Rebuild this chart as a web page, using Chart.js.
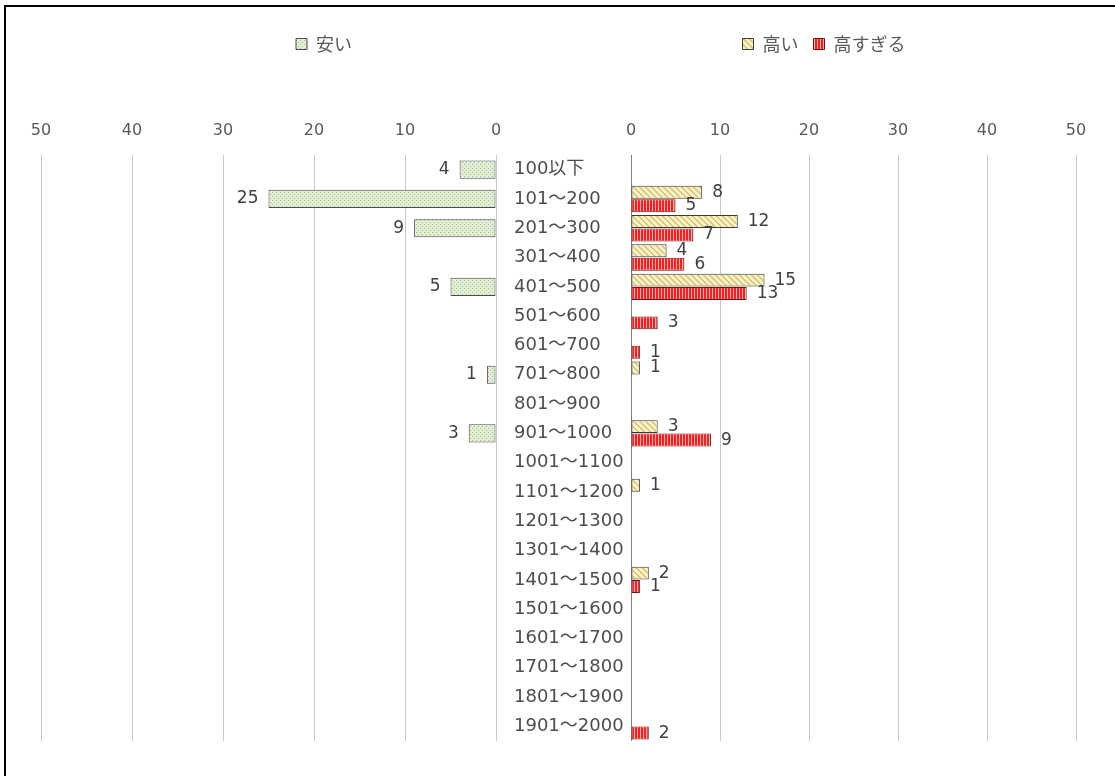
<!DOCTYPE html>
<html>
<head>
<meta charset="utf-8">
<script src="https://cdn.jsdelivr.net/npm/chart.js@4.4.0/dist/chart.umd.min.js"></script>
<style>
html,body{margin:0;padding:0;background:#fff;overflow:hidden;width:1115px;height:776px;}
#frame{position:absolute;left:4px;top:5px;width:1200px;height:900px;border-left:2px solid #000;border-top:2px solid #000;box-sizing:border-box;}
#leftWrap{position:absolute;left:0;top:0;width:648px;height:750px;}
#rightWrap{position:absolute;left:554px;top:0;width:540px;height:750px;}
</style>
</head>
<body>
<div id="frame"></div>
<div id="leftWrap"><canvas id="leftChart"></canvas></div>
<div id="rightWrap"><canvas id="rightChart"></canvas></div>
<script>
// ---- data ----
const categories = ['100以下','101～200','201～300','301～400','401～500','501～600','601～700','701～800','801～900','901～1000',
  '1001～1100','1101～1200','1201～1300','1301～1400','1401～1500','1501～1600','1601～1700','1701～1800','1801～1900','1901～2000'];
const seriesCheapName = '安い';
const seriesHighName = '高い';
const seriesTooHighName = '高すぎる';
const cheap   = [4,25,9,0,5,0,0,1,0,3,0,0,0,0,0,0,0,0,0,0];
const high    = [0,8,12,4,15,0,0,1,0,3,0,1,0,0,2,0,0,0,0,0];
const tooHigh = [0,5,7,6,13,3,1,0,0,9,0,0,0,0,1,0,0,0,0,2];
const axisMin = 0, axisMax = 50, axisStep = 10;

// ---- patterns ----
function makePattern(w, h, painter) {
  const c = document.createElement('canvas');
  c.width = w; c.height = h;
  const g = c.getContext('2d');
  painter(g, w, h);
  return document.createElement('canvas').getContext('2d').createPattern(c, 'repeat');
}
const greenDots = makePattern(4, 4, (g) => {
  g.fillStyle = '#e3eed6'; g.fillRect(0, 0, 4, 4);
  g.fillStyle = '#a3c084';
  g.fillRect(0, 0, 1, 1); g.fillRect(2, 2, 1, 1);
});
const yellowHatch = makePattern(6, 6, (g) => {
  g.fillStyle = '#f7f0cd'; g.fillRect(0, 0, 6, 6);
  g.fillStyle = '#dcc66a';
  for (let y = 0; y < 6; y++) for (let x = 0; x < 6; x++) {
    if ((((x - y) % 6) + 6) % 6 < 2) g.fillRect(x, y, 1, 1);
  }
});
const redStripes = makePattern(3, 1, (g) => {
  g.fillStyle = '#ff1c1c'; g.fillRect(0, 0, 2, 1);
  g.fillStyle = '#ffb8b8'; g.fillRect(2, 0, 1, 1);
});

const FONT_NUM = '"DejaVu Sans", "Noto Sans CJK JP", sans-serif';
const FONT_JP = '"Noto Sans CJK JP", sans-serif';

// ---- value labels plugin ----
const valueLabels = {
  id: 'valueLabels',
  afterDatasetsDraw(chart, args, opts) {
    const ctx = chart.ctx;
    ctx.save();
    ctx.font = '17px ' + FONT_NUM;
    ctx.fillStyle = '#404040';
    ctx.textBaseline = 'middle';
    chart.data.datasets.forEach((ds, i) => {
      const meta = chart.getDatasetMeta(i);
      meta.data.forEach((bar, j) => {
        const v = ds.data[j];
        if (!v) return;
        if (opts.side === 'left') {
          ctx.textAlign = 'right';
          ctx.fillText(String(v), bar.x - 10, bar.y);
        } else {
          ctx.textAlign = 'left';
          ctx.fillText(String(v), bar.x + 10, bar.y);
        }
      });
    });
    ctx.restore();
  }
};

function xAxis(reverse, zeroColor) {
  return {
    type: 'linear',
    position: 'top',
    reverse: reverse,
    min: axisMin, max: axisMax,
    ticks: { stepSize: axisStep, padding: 15, color: '#595959', font: { size: 16, family: FONT_NUM } },
    grid: { drawTicks: false, color: (c) => (c.tick && c.tick.value === 0 ? zeroColor : '#c8c8c8'), lineWidth: 1 },
    border: { display: false },
    afterFit: (axis) => { axis.height = 92; axis.paddingLeft = 0; axis.paddingRight = 0; }
  };
}

function fixedWidth(w) {
  return (axis) => { axis.width = w; axis.paddingTop = 0; axis.paddingBottom = 0; };
}

function spacerAxis(position, w) {
  return {
    type: 'linear',
    axis: 'y',
    position: position,
    ticks: { display: false },
    grid: { display: false, drawTicks: false },
    border: { display: false },
    afterFit: fixedWidth(w)
  };
}

Chart.defaults.animation = false;

new Chart(document.getElementById('leftChart'), {
  type: 'bar',
  data: {
    labels: categories,
    datasets: [{
      label: seriesCheapName,
      data: cheap,
      backgroundColor: greenDots,
      borderColor: '#4a4a4a',
      borderWidth: 1,
      borderSkipped: false,
      categoryPercentage: 0.62,
      barPercentage: 1
    }]
  },
  options: {
    indexAxis: 'y',
    responsive: true,
    maintainAspectRatio: false,
    layout: { padding: { left: 0, right: 0, top: 20, bottom: 9 } },
    scales: {
      x: xAxis(true, '#c8c8c8'),
      y: {
        type: 'category',
        position: 'right',
        ticks: { crossAlign: 'near', padding: 18, color: '#4d4d4d', font: { size: 18, family: FONT_NUM } },
        grid: { display: false, drawTicks: false },
        border: { display: false },
        afterFit: fixedWidth(152)
      },
      yPad: spacerAxis('left', 41)
    },
    plugins: {
      legend: {
        position: 'top',
        labels: { boxWidth: 11, boxHeight: 11, padding: 15, color: '#595959', font: { size: 18, family: FONT_JP } }
      },
      tooltip: { enabled: false },
      valueLabels: { side: 'left' }
    }
  },
  plugins: [valueLabels]
});

new Chart(document.getElementById('rightChart'), {
  type: 'bar',
  data: {
    labels: categories,
    datasets: [{
      label: seriesHighName,
      data: high,
      backgroundColor: yellowHatch,
      borderColor: '#3a3a3a',
      borderWidth: 1,
      borderSkipped: false,
      categoryPercentage: 0.92,
      barPercentage: 0.96
    }, {
      label: seriesTooHighName,
      data: tooHigh,
      backgroundColor: redStripes,
      borderColor: '#7a1010',
      borderWidth: 1,
      borderSkipped: false,
      categoryPercentage: 0.92,
      barPercentage: 0.96
    }]
  },
  options: {
    indexAxis: 'y',
    responsive: true,
    maintainAspectRatio: false,
    layout: { padding: { left: 0, right: 0, top: 20, bottom: 9 } },
    scales: {
      x: xAxis(false, '#7f7f7f'),
      y: {
        type: 'category',
        position: 'left',
        ticks: { display: false },
        grid: { display: false, drawTicks: false },
        border: { display: false },
        afterFit: fixedWidth(77)
      },
      yPad: spacerAxis('right', 18)
    },
    plugins: {
      legend: {
        position: 'top',
        labels: { boxWidth: 11, boxHeight: 11, padding: 15, color: '#595959', font: { size: 18, family: FONT_JP } }
      },
      tooltip: { enabled: false },
      valueLabels: { side: 'right' }
    }
  },
  plugins: [valueLabels]
});
</script>
</body>
</html>
